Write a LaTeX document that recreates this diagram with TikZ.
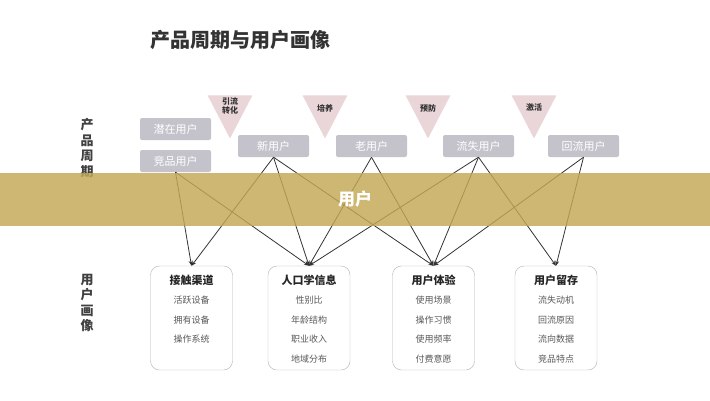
\documentclass[tikz,border=0pt]{standalone}
\usepackage{fontspec}
\newfontfamily\cjk{Noto Sans CJK SC}
\usetikzlibrary{arrows.meta,shapes.geometric}
\definecolor{boxgray}{HTML}{C4C3CC}
\definecolor{tripink}{HTML}{EAD6D9}
\definecolor{band}{HTML}{C2A854}
\definecolor{linegray}{HTML}{333333}
\tikzset{
  stage/.style={fill=boxgray,rounded corners=2pt,minimum width=71pt,minimum height=22pt,text=white,font=\cjk\fontsize{11}{11}\selectfont,inner sep=0pt},
  phase/.style={isosceles triangle,shape border rotate=-90,isosceles triangle apex angle=55,fill=tripink,minimum height=43pt,inner sep=0pt},
  phasetext/.style={font=\cjk\bfseries\fontsize{8}{9}\selectfont,align=center,text=black!80},
  profile/.style={draw=gray!60,rounded corners=9pt,minimum width=82pt,minimum height=104pt,inner sep=0pt},
  link/.style={draw=linegray,line width=0.8pt,-{Stealth[length=5pt,width=4pt]}}
}
\begin{document}
\begin{tikzpicture}[x=1pt,y=-1pt]
  \useasboundingbox (0,0) rectangle (710,400);
  \fill[white] (0,0) rectangle (710,400);
  % title
  \node[anchor=west,font=\cjk\bfseries\fontsize{20}{20}\selectfont,text=black!80] (title) at (147,40) {产品周期与用户画像};
  % side labels
  \node[font=\cjk\bfseries\fontsize{13}{15.5}\selectfont,align=center,text=black!75] (cycle) at (87,148) {产\\品\\周\\期};
  \node[font=\cjk\bfseries\fontsize{13}{15.5}\selectfont,align=center,text=black!75] (portrait) at (87,303) {用\\户\\画\\像};
  % phases
  \node[phase] (t1) at (230,109) {};
  \node[phasetext] at (230,106) {引流\\转化};
  \node[phase] (t2) at (325,109) {};
  \node[phasetext] at (325,108) {培养};
  \node[phase] (t3) at (428,109) {};
  \node[phasetext] at (428,108) {预防};
  \node[phase] (t4) at (534,109) {};
  \node[phasetext] at (534,107) {激活};
  % stages
  \node[stage] (potential) at (175.5,129) {潜在用户};
  \node[stage] (rival) at (175.5,161) {竞品用户};
  \node[stage] (new) at (273.5,146) {新用户};
  \node[stage] (old) at (371.5,146) {老用户};
  \node[stage] (lost) at (478.5,146) {流失用户};
  \node[stage] (back) at (583.5,146) {回流用户};
  % profiles
  \foreach \n/\x/\h/\a/\b/\c/\d in {
      touch/191.5/接触渠道/活跃设备/拥有设备/操作系统/{},
      demo/309/人口学信息/性别比/年龄结构/职业收入/地域分布,
      exp/433.5/用户体验/使用场景/操作习惯/使用频率/付费意愿,
      keep/556/用户留存/流失动机/回流原因/流向数据/竞品特点}{
    \node[profile] (\n) at (\x,318) {};
    \node[anchor=north,align=center,font=\cjk\fontsize{9}{19.5}\selectfont,text=black!65] at (\x,271)
      {{\bfseries\fontsize{11}{11}\selectfont\color{black!85}\h}\\\a\\\b\\\c\\\d};
  }
  % links
  \foreach \s/\t in {rival/touch,rival/demo,new/touch,new/demo,new/exp,old/demo,old/exp,
                     lost/demo,lost/exp,lost/keep,back/exp,back/keep}
    \draw[link] (\s.south) -- (\t.north);
  % banner
  \fill[band,opacity=0.82] (0,173) rectangle (710,226);
  \node[font=\cjk\bfseries\fontsize{17}{17}\selectfont,text=white] (banner) at (355,199) {用户};
\end{tikzpicture}
\end{document}
